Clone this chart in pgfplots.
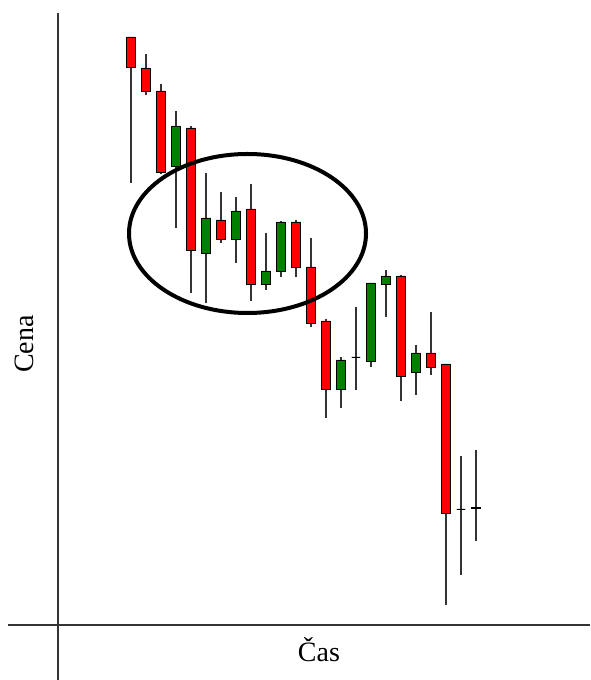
\documentclass[border=0pt]{standalone}
\usepackage{fontspec}
\setmainfont{Liberation Serif}
\usepackage{pgfplots}
\pgfplotsset{compat=1.18}
\usepgfplotslibrary{statistics}
\definecolor{CandleRed}{HTML}{FF0000}
\definecolor{CandleGreen}{HTML}{007F00}
\definecolor{WickGray}{HTML}{333333}

% candle: position, low, body low, body high, high, fill colour
\newcommand{\candle}[6]{%
  \addplot[boxplot prepared={draw position=#1,
      lower whisker=#2, lower quartile=#3, median=#4,
      upper quartile=#4, upper whisker=#5},
    fill=#6, draw=black] coordinates {};
}

\begin{document}
\begin{tikzpicture}
\begin{axis}[
  scale only axis,
  width=590pt, height=680pt,
  xmin=-7.7333, xmax=31.6,
  ymin=-55, ymax=625,
  axis lines=none,
  clip=false,
  boxplot/draw direction=y,
  boxplot/box extend=0.58,
  boxplot/whisker extend=0,
  boxplot/every box/.style={draw=black, line width=0.8pt},
  boxplot/every median/.style={draw=black, line width=0.8pt},
  boxplot/every whisker/.style={draw=WickGray, line width=1.6pt},
]
% axis lines
\draw[line width=1.6pt, black!80] (axis cs:-3.8667,612) -- (axis cs:-3.8667,-55);
\draw[line width=1.6pt, black!80] (axis cs:-7.2,0) -- (axis cs:31.6,0);

\candle{1}{442}{558}{588}{588}{CandleRed}
\candle{2}{530}{534}{557}{571}{CandleRed}
\candle{3}{451}{453}{534}{541}{CandleRed}
\candle{4}{397}{459}{499}{514}{CandleGreen}
\candle{5}{332}{375}{497}{499}{CandleRed}
\candle{6}{322}{372}{407}{452}{CandleGreen}
\candle{7}{382}{386}{405}{433}{CandleRed}
\candle{8}{362}{386}{414}{428}{CandleGreen}
\candle{9}{324}{341}{416}{441}{CandleRed}
\candle{10}{335}{341}{354}{392}{CandleGreen}
\candle{11}{348}{354}{403}{404}{CandleGreen}
\candle{12}{348}{358}{403}{405}{CandleRed}
\candle{13}{298}{302}{358}{387}{CandleRed}
\candle{14}{207}{236}{304}{306}{CandleRed}
\candle{15}{217}{236}{265}{268}{CandleGreen}
\candle{16}{235}{268}{268}{318}{black}
\candle{17}{258}{264}{342}{342}{CandleGreen}
\candle{18}{308}{341}{349}{355}{CandleGreen}
\candle{19}{224}{249}{349}{350}{CandleRed}
\candle{20}{230}{253}{272}{280}{CandleGreen}
\candle{21}{250}{258}{272}{313}{CandleRed}
\candle{22}{20}{112}{261}{261}{CandleRed}
\candle{23}{50}{116}{116}{169}{black}
\candle{24}{84}{116.5}{117.5}{175}{black}

% highlighted consolidation
\draw[line width=4pt, black] (axis cs:8.767,391.5) ellipse [x radius=118.5pt, y radius=79.5pt];

\node[rotate=90, anchor=base, inner sep=0pt, font=\fontsize{28}{33}\selectfont] at (axis cs:-5.533,281) {Cena};
\node[anchor=base, inner sep=0pt, font=\fontsize{28}{33}\selectfont] at (axis cs:13.533,-37) {Čas};
\end{axis}
\pgfresetboundingbox
\path[use as bounding box] (current axis.south west) rectangle (current axis.north east);
\end{tikzpicture}
\end{document}
